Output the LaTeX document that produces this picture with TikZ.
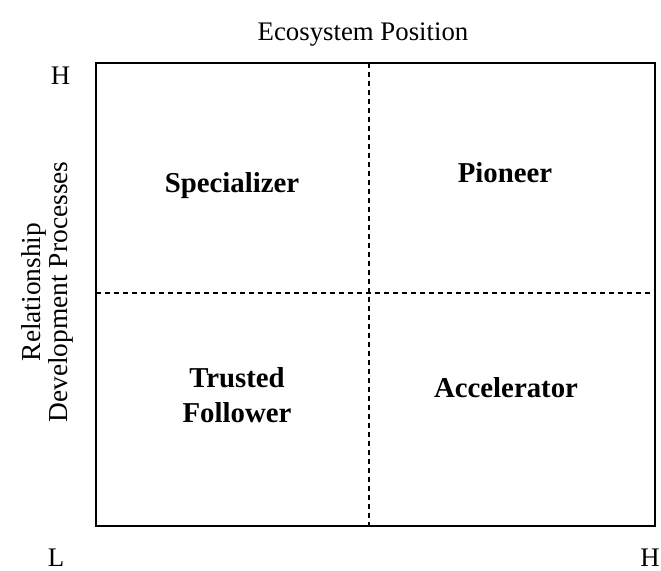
\documentclass[tikz,border=0pt]{standalone}
\usepackage{fontspec}
\setmainfont{Liberation Serif}

\tikzset{
    axislabel/.style={font=\fontsize{13.4}{15}\selectfont, inner sep=0pt},
    quadlabel/.style={font=\fontsize{14.4}{17.5}\selectfont\bfseries, align=center, inner sep=0pt},
    divider/.style={line width=0.6pt, dash pattern=on 2.5pt off 2pt}
}

\begin{document}
\begin{tikzpicture}[x=0.5pt, y=-0.5pt]
        \useasboundingbox (0,0) rectangle (661,570);

        % corners of the grid
        \coordinate (nw) at (96,63);
        \coordinate (se) at (655,526);
        \coordinate (topmid) at (369,63);
        \coordinate (botmid) at (369,526);
        \coordinate (leftmid) at (96,293);
        \coordinate (rightmid) at (655,293);

        %\draw[very thin, gray!40] (0,0) grid[step=50] (661,570);

        \draw[divider] (topmid) -- (botmid);
        \draw[divider] (leftmid) -- (rightmid);
        \draw[black, line width=1pt] (nw) rectangle (se);

        \node[axislabel, anchor=base] (xtitle) at (363,40) {Ecosystem Position};
        \node[axislabel, rotate=90, align=center, font=\fontsize{13.7}{13.5}\selectfont] (ytitle) at (47,292) {Relationship\\Development Processes};
        \node[axislabel, anchor=base] (yhigh) at (60.5,84) {H};
        \node[axislabel, anchor=base] (low) at (56,566) {L};
        \node[axislabel, anchor=base] (xhigh) at (650,566) {H};

        \node[quadlabel, anchor=base] (specializer) at (232,192) {Specializer};
        \node[quadlabel, anchor=base] (pioneer) at (505,182) {Pioneer};
        \node[quadlabel] (follower) at (237,395) {Trusted\\Follower};
        \node[quadlabel, anchor=base] (accelerator) at (506,397) {Accelerator};
    \end{tikzpicture}
\end{document}
